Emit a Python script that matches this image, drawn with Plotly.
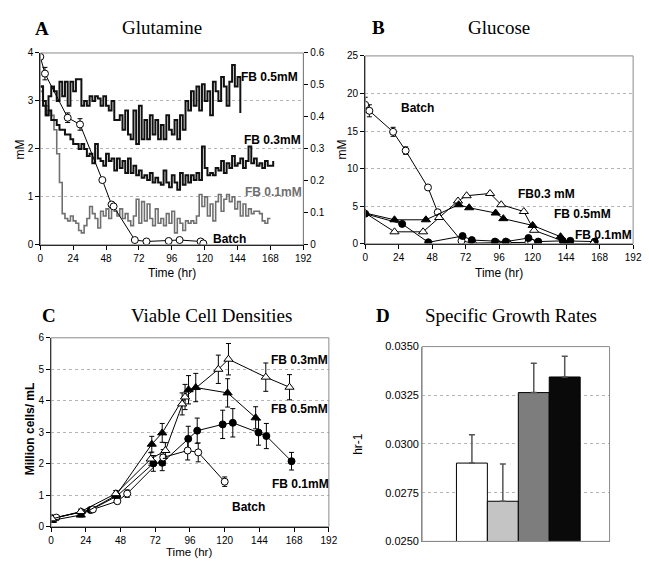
import plotly.graph_objects as go

W, H = 649, 565

# ---------------- DATA ----------------
# Panel A: Glutamine (mM), fed-batch traces sampled every 2 h
gln_step_hr = 2
gln_fb05 = [3.3, 3.0, 2.7, 3.1, 3.3, 3.2, 3.0, 3.4, 3.1, 3.4, 2.9, 3.4, 3.2, 3.45, 3.45, 2.9, 3.0, 2.9, 3.1, 3.0,
            3.1, 3.05, 2.9, 3.1, 2.9, 2.8, 3.0, 2.6, 2.6, 2.7, 2.4, 2.8, 2.3, 2.2, 2.8, 2.1, 2.9, 2.2, 2.6, 2.2,
            2.7, 2.3, 2.6, 2.2, 2.5, 2.2, 2.7, 2.4, 2.3, 2.6, 2.2, 2.7, 2.4, 3.0, 2.8, 3.2, 2.9, 3.3, 2.8, 3.35,
            3.0, 3.2, 2.7, 3.4, 3.2, 3.0, 3.5, 3.3, 2.9, 3.4, 3.75, 3.3, 3.5, 2.75]
gln_fb03 = [3.3, 2.9, 2.7, 2.8, 2.6, 2.6, 2.5, 2.4, 2.4, 2.3, 2.3, 2.2, 2.1, 2.1, 2.0, 2.1, 2.0, 1.85, 1.9, 1.7,
            2.1, 1.8, 1.75, 1.65, 1.9, 1.75, 1.8, 1.55, 1.8, 1.6, 1.75, 1.5, 1.8, 1.5, 1.65, 1.45, 1.55, 1.4, 1.45, 1.35,
            1.5, 1.3, 1.4, 1.3, 1.25, 1.55, 1.3, 1.2, 1.45, 1.3, 1.15, 1.5, 1.25, 1.45, 1.3, 1.45, 1.35, 1.5, 1.35, 2.05,
            1.6, 1.45, 1.5, 1.45, 1.6, 1.55, 1.75, 1.5, 1.7, 1.6, 1.85, 1.65, 1.7, 1.8, 1.6, 1.75, 2.05, 1.7, 1.8, 1.65,
            1.7, 1.6, 1.75, 1.65, 1.65, 1.75]
gln_fb01 = [3.2, 3.0, 2.9, 2.8, 2.7, 2.4, 1.9, 1.3, 0.65, 0.55, 0.5, 0.6, 0.5, 0.45, 0.3, 0.25, 0.4, 0.55, 0.8, 0.65,
            0.55, 0.35, 0.7, 0.6, 0.75, 0.55, 0.85, 0.7, 0.6, 0.75, 0.55, 0.65, 0.5, 0.4, 0.6, 0.95, 0.45, 0.9, 0.5, 0.85,
            0.55, 0.4, 0.75, 0.45, 0.55, 0.4, 0.65, 0.45, 0.7, 0.25, 0.55, 0.45, 0.3, 0.5, 0.45, 0.5, 0.45, 0.6, 1.05, 0.8,
            1.0, 0.6, 0.85, 0.5, 0.9, 1.05, 0.7, 0.95, 1.05, 0.9, 1.0, 0.75, 0.9, 0.6, 0.85, 0.6, 0.75, 0.65, 0.7, 0.7,
            0.65, 0.5, 0.45, 0.55, 0.55]
gln_batch_t = [0, 3.4, 20, 29, 45.3, 52, 53.5, 69, 77.5, 93.7, 101.7, 117, 119]
gln_batch = [3.92, 3.57, 2.65, 2.51, 1.35, 0.84, 0.80, 0.10, 0.07, 0.08, 0.10, 0.07, 0.03]
gln_batch_err = [0.05, 0.13, 0.10, 0.12, 0.03, 0.03, 0.03, 0.02, 0.02, 0.02, 0.02, 0.02, 0.02]

# Panel B: Glucose (mM)
glc_batch_t = [0, 3, 20, 29, 45, 52, 69, 77, 94, 102, 117, 119]
glc_batch = [18.5, 17.7, 14.9, 12.4, 7.5, 4.2, 0.4, 0.1, 0.15, 0.15, 0.2, 0.2]
glc_batch_err = [1.0, 0.8, 0.6, 0.5, 0.2, 0.2, 0.1, 0.1, 0.1, 0.1, 0.1, 0.1]
glc_fb03_t = [0, 21, 41.5, 53, 66.5, 72.7, 89.5, 97.5, 113.7, 121, 147, 163]
glc_fb03 = [4.1, 1.6, 1.6, 3.5, 5.7, 6.4, 6.7, 5.2, 4.3, 1.8, 0.0, 0.0]
glc_fb05_t = [0, 21, 43.5, 67, 74.5, 93.5, 99, 120, 140, 146]
glc_fb05 = [4.1, 3.2, 3.2, 5.2, 4.8, 4.1, 3.35, 2.45, 0.95, 0.25]
glc_fb01_t = [0, 26.5, 45.2, 69.8, 76.4, 93, 100.8, 117, 124, 141.5, 147, 164.5]
glc_fb01 = [4.0, 2.65, 0.2, 1.04, 0.5, 0.3, 0.3, 0.77, 0.3, 0.4, 0.4, 0.3]

# Panel C: Viable cell densities (million cells/mL)
vcd_fb03_t = [0.7, 20.5, 44.7, 68.9, 79, 90.6, 92.6, 115.6, 122.6, 148.4, 164.8]
vcd_fb03 = [0.25, 0.48, 1.05, 2.15, 2.42, 3.9, 4.12, 5.0, 5.32, 4.75, 4.43]
vcd_fb03_err = [0.05, 0.08, 0.1, 0.2, 0.25, 0.35, 0.4, 0.45, 0.5, 0.45, 0.4]
vcd_fb05_t = [0.5, 20.5, 45, 69.6, 76.8, 95, 100, 122, 141.4]
vcd_fb05 = [0.2, 0.37, 1.0, 2.62, 2.98, 4.35, 4.42, 4.25, 3.46]
vcd_fb05_err = [0.05, 0.06, 0.1, 0.25, 0.3, 0.45, 0.45, 0.45, 0.35]
vcd_fb01_t = [0.7, 27.3, 45.4, 70.7, 76.8, 94.8, 101, 118.6, 125.6, 143.4, 148.8, 166.2]
vcd_fb01 = [0.27, 0.53, 0.97, 2.01, 2.03, 2.79, 3.05, 3.25, 3.3, 2.99, 2.88, 2.08]
vcd_fb01_err = [0.05, 0.06, 0.1, 0.25, 0.25, 0.4, 0.4, 0.45, 0.45, 0.4, 0.4, 0.28]
vcd_batch_t = [0, 3.6, 21, 28.9, 45.8, 52.6, 77.5, 94.4, 101.7, 120]
vcd_batch = [0.25, 0.29, 0.46, 0.55, 0.81, 1.05, 2.2, 2.42, 2.36, 1.43]
vcd_batch_err = [0.05, 0.05, 0.06, 0.06, 0.08, 0.12, 0.25, 0.3, 0.3, 0.15]

# Panel D: Specific growth rates (hr-1)
mu_groups = ["Batch", "FB 0.1mM", "FB 0.3mM", "FB 0.5mM"]
mu_values = [0.02902, 0.02706, 0.03264, 0.03344]
mu_err = [0.00146, 0.00191, 0.00151, 0.00106]
mu_colors = ["#ffffff", "#c4c4c4", "#7d7d7d", "#0a0a0a"]

time_ticks = [0, 24, 48, 72, 96, 120, 144, 168, 192]


# ---------------- HELPERS ----------------
def xd(a, b):
    return [a / W, b / W]


def yd(top, bot):
    return [1 - bot / H, 1 - top / H]


SANS = "Liberation Sans, Arial, sans-serif"
SERIF = "Liberation Serif, Times New Roman, serif"

fig = go.Figure()

line_k = dict(color="black", width=1)


def mk(symbol, fill, size=7):
    return dict(symbol=symbol, size=size, color=fill, line=dict(color="black", width=1))


def err(arr):
    return dict(type="data", array=arr, visible=True, color="black", thickness=1, width=2.5)


# ---- Panel A ----
fig.add_trace(go.Scatter(x=[gln_step_hr * i for i in range(len(gln_fb01))], y=gln_fb01, mode="lines",
                         line=dict(color="#707070", width=1.6, shape="hv"), xaxis="x", yaxis="y"))
fig.add_trace(go.Scatter(x=[gln_step_hr * i for i in range(len(gln_fb03))], y=gln_fb03, mode="lines",
                         line=dict(color="#111111", width=2, shape="hv"), xaxis="x", yaxis="y"))
fig.add_trace(go.Scatter(x=[gln_step_hr * i for i in range(len(gln_fb05))], y=gln_fb05, mode="lines",
                         line=dict(color="#111111", width=2, shape="hv"), xaxis="x", yaxis="y"))
fig.add_trace(go.Scatter(x=gln_batch_t, y=gln_batch, mode="lines+markers", line=line_k,
                         marker=mk("circle", "white", 7), error_y=err(gln_batch_err), xaxis="x", yaxis="y"))
# right-hand scale of panel A
fig.add_trace(go.Scatter(x=[0], y=[0], mode="markers", marker=dict(opacity=0), hoverinfo="skip",
                         xaxis="x", yaxis="y5"))

# ---- Panel B ----
fig.add_trace(go.Scatter(x=glc_batch_t, y=glc_batch, mode="lines+markers", line=line_k,
                         marker=mk("circle", "white", 7), error_y=err(glc_batch_err), xaxis="x2", yaxis="y2"))
fig.add_trace(go.Scatter(x=glc_fb01_t, y=glc_fb01, mode="lines+markers", line=line_k,
                         marker=mk("circle", "black", 7), xaxis="x2", yaxis="y2"))
fig.add_trace(go.Scatter(x=glc_fb03_t, y=glc_fb03, mode="lines+markers", line=line_k,
                         marker=mk("triangle-up", "white", 8), xaxis="x2", yaxis="y2"))
fig.add_trace(go.Scatter(x=glc_fb05_t, y=glc_fb05, mode="lines+markers", line=line_k,
                         marker=mk("triangle-up", "black", 8), xaxis="x2", yaxis="y2"))

# ---- Panel C ----
fig.add_trace(go.Scatter(x=vcd_fb01_t, y=vcd_fb01, mode="lines+markers", line=line_k,
                         marker=mk("circle", "black", 7), error_y=err(vcd_fb01_err), xaxis="x3", yaxis="y3"))
fig.add_trace(go.Scatter(x=vcd_batch_t, y=vcd_batch, mode="lines+markers", line=line_k,
                         marker=mk("circle", "white", 7), error_y=err(vcd_batch_err), xaxis="x3", yaxis="y3"))
fig.add_trace(go.Scatter(x=vcd_fb05_t, y=vcd_fb05, mode="lines+markers", line=line_k,
                         marker=mk("triangle-up", "black", 8), error_y=err(vcd_fb05_err), xaxis="x3", yaxis="y3"))
fig.add_trace(go.Scatter(x=vcd_fb03_t, y=vcd_fb03, mode="lines+markers", line=line_k,
                         marker=mk("triangle-up", "white", 8), error_y=err(vcd_fb03_err), xaxis="x3", yaxis="y3"))

# ---- Panel D ----
fig.add_trace(go.Bar(x=list(range(len(mu_values))), y=mu_values, width=1, hovertext=mu_groups,
                     marker=dict(color=mu_colors, line=dict(color="black", width=1)),
                     error_y=dict(type="data", array=mu_err, arrayminus=[0] * len(mu_err), symmetric=False,
                                  color="#555555", thickness=1.5, width=3),
                     xaxis="x4", yaxis="y4"))

tickfont = dict(family=SANS, size=10, color="black")
base_x = dict(range=[0, 192], tickvals=time_ticks, ticks="outside", ticklen=4, tickcolor="black",
              showline=True, linecolor="black", linewidth=1, showgrid=False, zeroline=False,
              tickfont=tickfont, fixedrange=True)
base_y = dict(ticks="outside", ticklen=4, tickcolor="black", showline=True, linecolor="black", linewidth=1,
              showgrid=True, gridcolor="#b5b5b5", griddash="dot", gridwidth=1, zeroline=False,
              tickfont=tickfont, fixedrange=True)

fig.update_layout(
    width=W, height=H, margin=dict(l=0, r=0, t=0, b=0),
    paper_bgcolor="white", plot_bgcolor="white", showlegend=False,
    xaxis=dict(base_x, domain=xd(38, 306), anchor="y"),
    yaxis=dict(base_y, domain=yd(48, 244), anchor="x", range=[0, 4], dtick=1),
    yaxis5=dict(ticks="outside", ticklen=4, tickcolor="black", showline=True, linecolor="#555555",
                overlaying="y", side="right", anchor="x", range=[0, 0.6], dtick=0.1, showgrid=False,
                zeroline=False, tickfont=tickfont, fixedrange=True),
    xaxis2=dict(base_x, domain=xd(369, 642), anchor="y2"),
    yaxis2=dict(base_y, domain=yd(51, 243), anchor="x2", range=[0, 25], dtick=5),
    xaxis3=dict(base_x, domain=xd(49, 332), anchor="y3"),
    yaxis3=dict(base_y, domain=yd(339, 532), anchor="x3", range=[0, 6], dtick=1),
    xaxis4=dict(domain=xd(427, 618), anchor="y4", range=[-1.61, 4.45], showticklabels=False, ticks="",
                showline=True, linecolor="#888888", showgrid=False, zeroline=False, fixedrange=True),
    yaxis4=dict(base_y, domain=yd(348, 547), anchor="x4", range=[0.025, 0.035], dtick=0.0025,
                tickformat=".4f", ticks="", linecolor="#888888", tickfont=dict(family=SANS, size=11, color="black")),
)

# panel frames (light grey boxes)
for xr, yr in [("x", "y"), ("x2", "y2"), ("x3", "y3"), ("x4", "y4")]:
    fig.add_shape(type="rect", xref=xr + " domain", yref=yr + " domain", x0=0, x1=1, y0=0, y1=1,
                  line=dict(color="#8a8a8a", width=1), layer="above")


def ann(xp, yp, text, size=12, family=SANS, color="black", angle=0, xanchor="center"):
    fig.add_annotation(x=xp / W, y=1 - yp / H, xref="paper", yref="paper", text=text, showarrow=False,
                       font=dict(family=family, size=size, color=color), textangle=angle,
                       xanchor=xanchor, yanchor="middle")


# panel titles
ann(40, 23, "<b>A</b>", 19, SERIF)
ann(162, 22, "Glutamine", 19, SERIF)
ann(383, 22, "<b>B</b>", 19, SERIF)
ann(505, 22, "Glucose", 19, SERIF)
ann(47, 316, "<b>C</b>", 19, SERIF)
ann(212, 316, "Viable Cell Densities", 19, SERIF)
ann(387, 316, "<b>D</b>", 19, SERIF)
ann(518, 316, "Specific Growth Rates", 19, SERIF)

# axis titles
ann(172, 273, "Time (hr)", 12)
ann(505, 273, "Time (hr)", 12)
ann(190, 558, "Time (hr)", 11.5)
ann(17, 147, "mM", 12, angle=-90)
ann(345, 147, "mM", 12, angle=-90)
ann(27, 432, "<b>Million cells/ mL</b>", 12, angle=-90)
ann(361, 447, "hr-1", 12, angle=-90)

# series labels
ann(240, 73, "<b>FB 0.5mM</b>", 12, xanchor="left")
ann(243, 137, "<b>FB 0.3mM</b>", 12, xanchor="left")
ann(245, 190, "<b>FB 0.1mM</b>", 12, color="#6e6e6e", xanchor="left")
ann(212, 238, "<b>Batch</b>", 12, xanchor="left")

ann(403, 104, "<b>Batch</b>", 12, xanchor="left")
ann(523, 192, "<b>FB0.3 mM</b>", 12, xanchor="left")
ann(559, 213, "<b>FB 0.5mM</b>", 12, xanchor="left")
ann(581, 234, "<b>FB 0.1mM</b>", 12, xanchor="left")

ann(271, 362, "<b>FB 0.3mM</b>", 12, xanchor="left")
ann(271, 412, "<b>FB 0.5mM</b>", 12, xanchor="left")
ann(272, 488, "<b>FB 0.1mM</b>", 12, xanchor="left")
ann(231, 512, "<b>Batch</b>", 12, xanchor="left")

fig.write_html("out.html")
